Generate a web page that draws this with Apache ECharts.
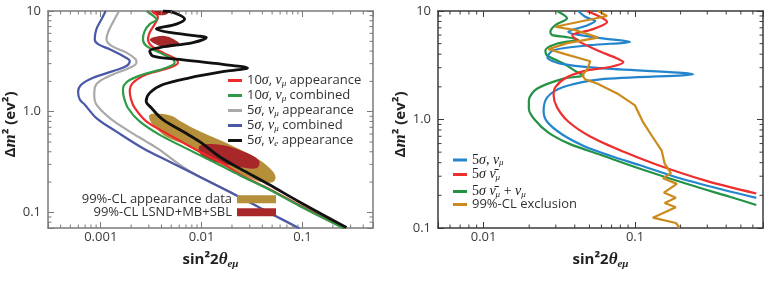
<!DOCTYPE html>
<html>
<head>
<meta charset="utf-8">
<script src="https://cdn.jsdelivr.net/npm/echarts@6/dist/echarts.min.js"></script>
<style>
  html, body { margin: 0; padding: 0; background: #fff; }
  #chart { width: 771px; height: 285px; }
</style>
</head>
<body>
<div id="chart"></div>
<script>
// sensitivity contours as [sin²2θ, Δm²] pairs

// left panel
const leftBlue5Comb = [[0.00112,10],[0.00102,8.32],[0.000906,6.61],[0.000872,5.25],[0.00094,4.68],[0.00123,4.17],[0.00166,3.57],[0.00194,3.18],[0.0018,2.84],[0.00132,2.53],[0.00084,2.17],[0.000644,1.86],[0.000596,1.585],[0.00062,1.32],[0.000695,1.175],[0.000906,0.865],[0.00143,0.635],[0.00262,0.434],[0.00482,0.318],[0.00955,0.2255],[0.0176,0.166],[0.0299,0.126],[0.0528,0.0933],[0.0934,0.0692]];
const leftGray5App = [[0.00152,10],[0.00132,7.71],[0.00118,6.12],[0.00114,5.25],[0.00128,4.5],[0.0018,3.86],[0.00222,3.31],[0.00226,3.07],[0.00194,2.735],[0.00132,2.34],[0.000977,2.01],[0.000872,1.726],[0.000862,1.42],[0.000906,1.175],[0.00123,0.865],[0.00194,0.635],[0.00283,0.505],[0.00384,0.417],[0.00605,0.2985],[0.00955,0.2255],[0.0176,0.166],[0.0299,0.126],[0.0528,0.0933],[0.0934,0.0692]];
const leftRed10App = [[0.0032,10],[0.00369,8.65],[0.00343,7.41],[0.00306,6.12],[0.00294,5.25],[0.00318,4.5],[0.00414,3.86],[0.00562,3.31],[0.00582,3.07],[0.00482,2.735],[0.00283,2.34],[0.00209,1.936],[0.00194,1.596],[0.002,1.318],[0.00217,1.089],[0.00283,0.8],[0.00447,0.612],[0.00853,0.427],[0.0158,0.309],[0.0238,0.24],[0.0471,0.17],[0.0934,0.118],[0.2606,0.0695]];
const leftGreen10Comb = [[0.00285,10],[0.0033,8.98],[0.00358,8.22],[0.00306,7.41],[0.00273,6.35],[0.00262,5.25],[0.00283,4.5],[0.00384,3.86],[0.0052,3.31],[0.0054,3.07],[0.00447,2.735],[0.00262,2.34],[0.00186,2.01],[0.00166,1.66],[0.00169,1.41],[0.00186,1.089],[0.00243,0.8],[0.00384,0.589],[0.0082,0.401],[0.01507,0.295],[0.0238,0.234],[0.0471,0.168],[0.0934,0.116],[0.2606,0.0692]];
const leftBlack5e = [[0.00414,10],[0.0052,9.7],[0.00679,8.32],[0.00562,7.41],[0.00356,6.61],[0.00482,6.12],[0.00887,5.66],[0.01114,5.46],[0.0082,4.86],[0.00384,4.34],[0.00306,4.01],[0.0033,3.57],[0.00605,3.31],[0.01626,2.95],[0.0285,2.72],[0.0176,2.53],[0.0076,2.17],[0.00414,1.86],[0.00306,1.538],[0.00282,1.268],[0.00318,1.089],[0.00414,0.832],[0.00653,0.635],[0.00955,0.505],[0.01507,0.357],[0.0238,0.2735],[0.0471,0.188],[0.0934,0.127],[0.273,0.0708]];

// allowed regions (polygons)
const leftAppData = [[[0.00306,0.933],[0.00384,0.955],[0.00516,0.902],[0.00605,0.813],[0.00955,0.638],[0.0203,0.457],[0.0375,0.331],[0.0493,0.263],[0.0541,0.224],[0.0505,0.1995],[0.0375,0.2018],[0.0203,0.263],[0.012,0.343],[0.00706,0.468],[0.00447,0.562],[0.00343,0.708],[0.00306,0.832]]];
const leftLsnd = [
  [[0.00955,0.457],[0.0158,0.468],[0.0238,0.417],[0.0335,0.357],[0.0375,0.316],[0.0351,0.275],[0.0238,0.282],[0.01507,0.309],[0.01023,0.355]],
  [[0.00306,5.25],[0.00399,5.66],[0.00504,5.37],[0.00605,4.68],[0.0045,4.34],[0.00351,4.68]],
  [[0.0032,9.95],[0.0048,9.95],[0.0044,9.2],[0.0035,9.2]]
];

// right panel
const rightBlue = [[0.0422,10],[0.0469,8.85],[0.0546,8.07],[0.0469,7.26],[0.0362,6.43],[0.0589,5.62],[0.0927,5.2],[0.0506,4.84],[0.0289,4.35],[0.0264,3.75],[0.0321,3.27],[0.0589,2.97],[0.242,2.61],[0.0589,2.345],[0.0336,1.99],[0.0264,1.608],[0.0249,1.211],[0.0262,0.958],[0.0331,0.727],[0.0455,0.574],[0.0685,0.464],[0.108,0.379],[0.198,0.287],[0.381,0.225],[0.632,0.1896]];
const rightRed = [[0.048,10],[0.0654,7.91],[0.0506,6.67],[0.0385,5.99],[0.0422,5.27],[0.0562,4.35],[0.0762,3.65],[0.0838,3.37],[0.0685,3.05],[0.0483,2.84],[0.0357,2.46],[0.0298,1.99],[0.029,1.67],[0.0305,1.3],[0.0362,0.958],[0.0506,0.696],[0.0834,0.506],[0.1396,0.383],[0.296,0.272],[0.632,0.208]];
const rightGreen = [[0.0305,10],[0.0356,8.56],[0.0298,7.42],[0.0276,6.43],[0.0284,5.99],[0.0346,5.78],[0.0422,5.45],[0.0307,5.02],[0.0256,4.35],[0.0262,3.91],[0.0337,3.28],[0.0413,2.74],[0.0457,2.55],[0.0337,2.38],[0.0225,1.92],[0.0199,1.5],[0.0199,1.264],[0.0217,1.0],[0.0268,0.758],[0.0373,0.593],[0.0589,0.474],[0.108,0.352],[0.23,0.25],[0.422,0.194],[0.632,0.163]];
const rightExcl = [[0.0571,10],[0.0654,8.99],[0.0298,7.16],[0.0403,6.67],[0.0571,5.69],[0.0357,5.06],[0.0268,4.45],[0.0346,4.0],[0.0506,3.44],[0.0483,2.9],[0.0448,2.55],[0.0469,2.345],[0.0562,2.15],[0.0762,1.74],[0.1,1.348],[0.113,0.944],[0.131,0.686],[0.15,0.516],[0.157,0.392],[0.1726,0.32],[0.153,0.287],[0.189,0.255],[0.155,0.212],[0.186,0.1896],[0.157,0.17],[0.186,0.155],[0.131,0.1245],[0.186,0.1112],[0.198,0.1]];

// tick labels
const leftXTicks = [0.001, 0.01, 0.1];
const leftYTicks = [0.1, 1, 10];
const rightXTicks = [0.01, 0.1];
const rightYTicks = [0.1, 1, 10];

const SANS = "'Open Sans', 'Noto Sans', sans-serif";
const SERIF = "'Liberation Serif', 'DejaVu Serif', serif";

const LEGEND_TEXT = {
  'r10': '{t|10}{g|σ}{t|, }{g|ν}{s|μ}{t| appearance}',
  'g10': '{t|10}{g|σ}{t|, }{g|ν}{s|μ}{t| combined}',
  'k5a': '{t|5}{g|σ}{t|, }{g|ν}{s|μ}{t| appearance}',
  'b5c': '{t|5}{g|σ}{t|, }{g|ν}{s|μ}{t| combined}',
  'e5a': '{t|5}{g|σ}{t|, }{g|ν}{s|e}{t| appearance}',
  'app': '{t|99%-CL appearance data}',
  'lsnd': '{t|99%-CL LSND+MB+SBL}',
  'rb': '{m|5}{g|σ}{m|, }{g|ν}{s|μ}',
  'rr': '{m|5}{g|σ }{g|ν̄}{s|μ}',
  'rg': '{m|5}{g|σ }{g|ν̄}{s|μ}{m| + }{g|ν}{s|μ}',
  'ro': '{t|99%-CL exclusion}'
};

const legendRich = {
  t: { fontFamily: SANS, fontSize: 13, color: '#333', lineHeight: 15 },
  m: { fontFamily: SERIF, fontSize: 14, color: '#222', lineHeight: 15 },
  g: { fontFamily: SERIF, fontStyle: 'italic', fontSize: 14, color: '#222', lineHeight: 15 },
  s: { fontFamily: SERIF, fontStyle: 'italic', fontSize: 9, color: '#222', lineHeight: 7, verticalAlign: 'bottom' }
};

const titleRich = {
  b: { fontFamily: SANS, fontWeight: 'bold', fontSize: 15, color: '#222', lineHeight: 20 },
  bi: { fontFamily: SERIF, fontWeight: 'bold', fontStyle: 'italic', fontSize: 17, color: '#222', lineHeight: 20 },
  bs: { fontFamily: SERIF, fontWeight: 'bold', fontStyle: 'italic', fontSize: 11, color: '#222', lineHeight: 10, verticalAlign: 'bottom' }
};
const X_TITLE = '{b|sin²2}{bi|θ}{bs|eμ}';
const Y_TITLE = '{b|Δ}{bi|m}{b|² (ev²)}';

function tickLabel(list) {
  return (v) => {
    const hit = list.find(t => Math.abs(Math.log10(v) - Math.log10(t)) < 1e-6);
    if (hit === undefined) return '';
    return hit === 1 ? '1.0' : String(hit);
  };
}

// 2..9 x 10^k between min and max
function minorTicks(min, max) {
  const out = [];
  for (let k = Math.floor(Math.log10(min)) - 1; k <= Math.ceil(Math.log10(max)); k++) {
    for (let m = 2; m <= 9; m++) {
      const v = m * Math.pow(10, k);
      if (v > min * 1.001 && v < max * 0.999) out.push(v);
    }
  }
  return out;
}

function axisPair(dir, grid, min, max, ticks, frame, extra) {
  const common = {
    type: 'log', gridIndex: grid, min, max,
    axisLine: { show: true, onZero: false, lineStyle: { color: frame, width: 1.5 } },
    axisTick: { show: true, inside: true, length: 6, lineStyle: { color: frame, width: 1 } },
    splitLine: { show: false },
    minorTick: { show: false }
  };
  const main = Object.assign({}, common, {
    position: dir === 'x' ? 'bottom' : 'left',
    axisLabel: {
      formatter: tickLabel(ticks), color: '#3a3a3a', fontSize: 13, fontFamily: SANS,
      margin: dir === 'x' ? 3 : 7, showMinLabel: true, showMaxLabel: true
    }
  }, extra);
  const mirror = Object.assign({}, common, {
    position: dir === 'x' ? 'top' : 'right',
    axisLabel: { show: false }
  });
  return [main, mirror];
}

function tickSeries(xi, yi, xMin, xMax, yMin, yMax, color) {
  const xRef = Math.sqrt(xMin * xMax), yRef = Math.sqrt(yMin * yMax);
  const data = [];
  minorTicks(xMin, xMax).forEach(v => { data.push([v, yRef, 0]); data.push([v, yRef, 1]); });
  minorTicks(yMin, yMax).forEach(v => { data.push([xRef, v, 2]); data.push([xRef, v, 3]); });
  return {
    type: 'custom', xAxisIndex: xi, yAxisIndex: yi, silent: true, z: 6, data,
    renderItem: (params, api) => {
      const cs = params.coordSys;
      const p = api.coord([api.value(0), api.value(1)]);
      const side = api.value(2), len = 3.5;
      const bottom = cs.y + cs.height, right = cs.x + cs.width;
      let s;
      if (side === 0) s = { x1: p[0], y1: bottom, x2: p[0], y2: bottom - len };
      else if (side === 1) s = { x1: p[0], y1: cs.y, x2: p[0], y2: cs.y + len };
      else if (side === 2) s = { x1: cs.x, y1: p[1], x2: cs.x + len, y2: p[1] };
      else s = { x1: right, y1: p[1], x2: right - len, y2: p[1] };
      return { type: 'line', shape: s, style: { stroke: color, lineWidth: 1 } };
    }
  };
}

function fillSeries(name, polys, color) {
  return {
    type: 'custom', name, xAxisIndex: 0, yAxisIndex: 0, silent: true, z: 1, clip: true,
    itemStyle: { color },
    data: [].concat(...polys),
    renderItem: (params, api) => {
      if (params.dataIndex !== 0) return;
      return {
        type: 'group',
        children: polys.map(poly => ({
          type: 'polygon',
          shape: { points: poly.map(p => api.coord(p)), smooth: 0.35 },
          style: { fill: color }
        }))
      };
    }
  };
}

function lineSeries(name, data, color, width, panel, smooth) {
  return {
    type: 'line', name, data, xAxisIndex: panel * 2, yAxisIndex: panel * 2,
    symbol: 'none', smooth, clip: true,
    lineStyle: { color, width }, itemStyle: { color }, z: 3
  };
}

const [lxB, lxT] = axisPair('x', 0, 0.0003, 0.5, leftXTicks, '#7a7a7a', { name: X_TITLE, nameLocation: 'middle', nameGap: 22, nameTextStyle: { rich: titleRich } });
const [lyL, lyR] = axisPair('y', 0, 0.07, 10, leftYTicks, '#7a7a7a', { name: Y_TITLE, nameLocation: 'middle', nameGap: 25, nameTextStyle: { rich: titleRich, padding: [0, 10, 0, 0] } });
const [rxB, rxT] = axisPair('x', 1, 0.005, 0.7, rightXTicks, '#3a3a3a', { name: X_TITLE, nameLocation: 'middle', nameGap: 22, nameTextStyle: { rich: titleRich } });
const [ryL, ryR] = axisPair('y', 1, 0.1, 10, rightYTicks, '#3a3a3a', { name: Y_TITLE, nameLocation: 'middle', nameGap: 25, nameTextStyle: { rich: titleRich, padding: [0, 10, 0, 0] } });

const legendBase = {
  orient: 'vertical', padding: 0, itemGap: 0.5, itemWidth: 14, itemHeight: 3, icon: 'rect',
  formatter: (n) => LEGEND_TEXT[n],
  textStyle: { fontFamily: SANS, fontSize: 13, color: '#333', rich: legendRich },
  selectedMode: false
};

const option = {
  animation: false,
  backgroundColor: '#fff',
  grid: [
    { left: 48, top: 11, width: 325, height: 217, containLabel: false, outerBoundsMode: 'none' },
    { left: 438, top: 11, width: 325, height: 217, containLabel: false, outerBoundsMode: 'none' }
  ],
  xAxis: [lxB, lxT, rxB, rxT],
  yAxis: [lyL, lyR, ryL, ryR],
  legend: [
    Object.assign({}, legendBase, { left: 228, top: 73.5, data: ['r10', 'g10', 'k5a', 'b5c', 'e5a'] }),
    Object.assign({}, legendBase, {
      right: 495, top: 192.8, itemGap: 0, align: 'right', itemWidth: 39, itemHeight: 8,
      data: [{ name: 'app', itemStyle: { color: '#b58f3a' } }, { name: 'lsnd', itemStyle: { color: '#a8282a' } }]
    }),
    Object.assign({}, legendBase, { left: 453, top: 153, data: ['rb'] }),
    Object.assign({}, legendBase, { left: 453, top: 167.5, data: ['rr'] }),
    Object.assign({}, legendBase, { left: 453, top: 184.5, data: ['rg'] }),
    Object.assign({}, legendBase, { left: 453, top: 198, data: ['ro'] })
  ],
  series: [
    fillSeries('app', leftAppData, '#b58f3a'),
    fillSeries('lsnd', leftLsnd, '#a8282a'),
    lineSeries('k5a', leftGray5App, '#a9a9a9', 2.2, 0, 0.35),
    lineSeries('b5c', leftBlue5Comb, '#4a58a8', 2.2, 0, 0.35),
    lineSeries('r10', leftRed10App, '#ee2b2b', 2.2, 0, 0.35),
    lineSeries('g10', leftGreen10Comb, '#2f9a47', 2.2, 0, 0.35),
    lineSeries('e5a', leftBlack5e, '#111111', 2.8, 0, 0.35),
    lineSeries('rg', rightGreen, '#229245', 2.2, 1, 0.3),
    lineSeries('rb', rightBlue, '#2385cc', 2.2, 1, 0.3),
    lineSeries('rr', rightRed, '#ee2d2d', 2.2, 1, 0.3),
    lineSeries('ro', rightExcl, '#cc8a1c', 2.2, 1, 0),
    tickSeries(0, 0, 0.0003, 0.5, 0.07, 10, '#7a7a7a'),
    tickSeries(2, 2, 0.005, 0.7, 0.1, 10, '#3a3a3a')
  ]
};

const chart = echarts.init(document.getElementById('chart'));
chart.setOption(option);
</script>
</body>
</html>
